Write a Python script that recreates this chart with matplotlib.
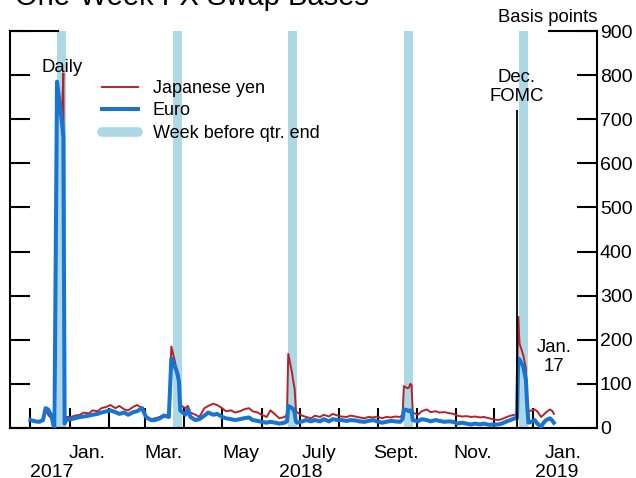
import numpy as np
import pandas as pd
import matplotlib

matplotlib.use("Agg")
import matplotlib.pyplot as plt
from matplotlib.lines import Line2D

plt.rcParams["font.family"] = ["Liberation Sans", "DejaVu Sans"]

# --- data (basis points) --------------------------------------------------
dates = [
    "2017-12-01", "2017-12-05", "2017-12-08", "2017-12-11", "2017-12-13", "2017-12-15", "2017-12-18",
    "2017-12-19", "2017-12-20", "2017-12-22", "2017-12-26", "2017-12-27", "2017-12-28", "2017-12-29",
    "2018-01-02", "2018-01-05", "2018-01-09", "2018-01-12", "2018-01-16", "2018-01-19", "2018-01-23",
    "2018-01-26", "2018-01-30",
    "2018-02-02", "2018-02-06", "2018-02-09", "2018-02-13", "2018-02-16", "2018-02-20", "2018-02-23",
    "2018-02-27",
    "2018-03-02", "2018-03-06", "2018-03-09", "2018-03-13", "2018-03-16", "2018-03-20", "2018-03-22",
    "2018-03-26", "2018-03-27", "2018-03-28", "2018-03-29",
    "2018-04-02", "2018-04-04", "2018-04-06", "2018-04-10", "2018-04-13", "2018-04-17", "2018-04-20",
    "2018-04-24", "2018-04-27",
    "2018-05-01", "2018-05-04", "2018-05-08", "2018-05-11", "2018-05-15", "2018-05-18", "2018-05-22",
    "2018-05-25", "2018-05-29",
    "2018-06-01", "2018-06-05", "2018-06-08", "2018-06-12", "2018-06-15", "2018-06-19", "2018-06-21",
    "2018-06-22", "2018-06-25", "2018-06-26", "2018-06-27", "2018-06-28", "2018-06-29",
    "2018-07-03", "2018-07-06", "2018-07-10", "2018-07-13", "2018-07-17", "2018-07-20", "2018-07-24",
    "2018-07-27", "2018-07-31",
    "2018-08-03", "2018-08-07", "2018-08-10", "2018-08-14", "2018-08-17", "2018-08-21", "2018-08-24",
    "2018-08-28", "2018-08-31",
    "2018-09-04", "2018-09-07", "2018-09-11", "2018-09-14", "2018-09-18", "2018-09-20", "2018-09-21",
    "2018-09-24", "2018-09-25", "2018-09-26", "2018-09-27", "2018-09-28",
    "2018-10-02", "2018-10-05", "2018-10-09", "2018-10-12", "2018-10-16", "2018-10-19", "2018-10-23",
    "2018-10-26", "2018-10-30",
    "2018-11-02", "2018-11-06", "2018-11-09", "2018-11-13", "2018-11-16", "2018-11-20", "2018-11-23",
    "2018-11-27", "2018-11-30",
    "2018-12-04", "2018-12-07", "2018-12-11", "2018-12-14", "2018-12-17", "2018-12-19", "2018-12-20",
    "2018-12-21", "2018-12-24", "2018-12-26", "2018-12-27", "2018-12-28", "2018-12-31",
    "2019-01-02", "2019-01-04", "2019-01-07", "2019-01-09", "2019-01-11", "2019-01-14", "2019-01-16",
    "2019-01-17",
]
yen = [
    18, 15, 14, 20, 45, 30, 20, 10, 5, 770, 720, 804, 15, 25,
    25, 28, 30, 35, 33, 40, 38, 45, 48,
    52, 45, 50, 42, 40, 48, 52, 45,
    25, 20, 22, 25, 30, 28, 185, 135, 125, 115, 52,
    45, 50, 35, 30, 25, 45, 50, 55, 52,
    45, 38, 40, 35, 38, 42, 45, 38, 35,
    30, 25, 40, 30, 22, 25, 30, 168, 125, 105, 90, 40, 35,
    28, 25, 22, 28, 25, 30, 26, 32, 28,
    26, 25, 28, 26, 24, 22, 25, 24, 26,
    22, 25, 24, 26, 25, 30, 95, 90, 92, 100, 98, 35,
    30, 38, 42, 36, 38, 35, 36, 34, 32,
    28, 26, 27, 25, 26, 24, 25, 22, 20,
    18, 20, 25, 28, 30, 30, 252, 192, 165, 135, 40, 38, 40,
    42, 38, 25, 30, 36, 42, 38, 32,
]
euro = [
    18, 15, 14, 18, 45, 42, 25, 8, 2, 785, 690, 660, 10, 18,
    20, 22, 25, 26, 28, 30, 32, 35, 38,
    40, 36, 32, 35, 30, 36, 38, 45,
    25, 18, 18, 22, 28, 25, 158, 130, 120, 105, 40,
    30, 42, 25, 18, 20, 28, 35, 30, 32,
    25, 22, 20, 18, 20, 22, 24, 18, 16,
    14, 12, 14, 12, 10, 12, 15, 50, 45, 42, 35, 15, 12,
    15, 18, 15, 18, 15, 20, 15, 20, 18,
    18, 16, 18, 17, 15, 14, 16, 18, 15,
    12, 14, 16, 15, 14, 20, 42, 40, 38, 40, 38, 18,
    15, 20, 18, 15, 18, 16, 14, 15, 14,
    10, 12, 10, 8, 10, 8, 10, 7, 8,
    8, 10, 15, 18, 22, 22, 158, 155, 139, 110, 55, 12, 15,
    18, 10, 3, 12, 18, 22, 16, 12,
]

# week before each quarter end
qtr_start = ["2017-12-22", "2018-03-23", "2018-06-22", "2018-09-21", "2018-12-21"]
qtr_end = ["2017-12-29", "2018-03-30", "2018-06-29", "2018-09-28", "2018-12-28"]

fomc_date = "2018-12-19"
fomc_top = 720

month_labels = ["Jan.", "Mar.", "May", "July", "Sept.", "Nov.", "Jan."]
month_label_dates = ["2018-01-15", "2018-03-16", "2018-05-16", "2018-07-16",
                     "2018-09-15", "2018-11-14", "2019-01-24"]
year_labels = ["2017", "2018", "2019"]
year_label_dates = ["2017-12-18", "2018-07-02", "2019-01-19"]

RED = "#B5232A"
BLUE = "#1874D2"
SHADE = "#ADD8E6"
FS_TICK = 14
FS_NOTE = 13.3
FS_LEG = 13

x = pd.to_datetime(dates)

fig = plt.figure(figsize=(6.36, 4.78), dpi=100)
ax = fig.add_axes([10 / 636, 1 - 428 / 478, 587 / 636, 397 / 478])

for s, e in zip(qtr_start, qtr_end):
    ax.axvspan(pd.Timestamp(s), pd.Timestamp(e), color=SHADE, lw=0, zorder=1)

ax.plot(x, yen, color=RED, lw=1.4, zorder=3)
ax.plot(x, euro, color=BLUE, lw=2.9, zorder=4)
ax.vlines(pd.Timestamp(fomc_date), 0, fomc_top, color="black", lw=1.3, zorder=5)

ax.set_xlim(pd.Timestamp("2017-11-15"), pd.Timestamp("2019-02-20"))
ax.set_ylim(0, 900)

# axes frame: no top spine, just long ticks at the two top corners
for side in ["left", "right", "bottom"]:
    ax.spines[side].set_linewidth(1.5)
ax.spines["top"].set_visible(False)
ax.axhline(900, xmin=0, xmax=48 / 587, color="black", lw=1.5, clip_on=False)
ax.axhline(900, xmin=1 - 48 / 587, xmax=1, color="black", lw=1.5, clip_on=False)

ax.set_yticks(np.arange(0, 901, 100))
ax.yaxis.set_ticks_position("both")
ax.tick_params(axis="y", direction="in", length=14.4, width=1.5,
               labelleft=False, labelright=True, labelsize=FS_TICK, pad=2)

ax.set_xticks(pd.date_range("2017-12-01", "2019-01-01", freq="MS"))
ax.tick_params(axis="x", direction="in", length=14.4, width=1.5, labelbottom=False)

xtrans = ax.get_xaxis_transform()
for lab, d in zip(month_labels, month_label_dates):
    ax.text(pd.Timestamp(d), -30 / 397, lab, transform=xtrans, ha="center",
            va="baseline", fontsize=FS_TICK, clip_on=False)
for lab, d in zip(year_labels, year_label_dates):
    ax.text(pd.Timestamp(d), -49 / 397, lab, transform=xtrans, ha="center",
            va="baseline", fontsize=FS_TICK, clip_on=False)

# annotations
ax.text(pd.Timestamp("2017-12-26"), 818, "Daily", ha="center", va="center", fontsize=FS_NOTE)
ax.text(pd.Timestamp(fomc_date), 773, "Dec.\nFOMC", ha="center", va="center",
        fontsize=FS_NOTE, linespacing=1.1)
ax.text(pd.Timestamp("2019-01-17"), 161, "Jan.\n17", ha="center", va="center",
        fontsize=FS_NOTE, linespacing=1.1)
ax.text(1.0, (428 - 17) / 397, "Basis points", transform=ax.transAxes, ha="right",
        va="center", fontsize=FS_NOTE)

handles = [
    Line2D([], [], color=RED, lw=1.4),
    Line2D([], [], color=BLUE, lw=2.9),
    Line2D([], [], color=SHADE, lw=7, solid_capstyle="round"),
]
ax.legend(handles, ["Japanese yen", "Euro", "Week before qtr. end"],
          loc="upper left", bbox_to_anchor=(102 / 636, 1 - 80 / 478),
          bbox_transform=fig.transFigure, frameon=False, fontsize=FS_LEG,
          handlelength=2.0, handletextpad=0.8, labelspacing=0.3,
          borderpad=0, borderaxespad=0)

fig.text(15 / 636, 1 - 5 / 478, "One-Week FX Swap Bases", fontsize=21,
         ha="left", va="baseline")

fig.savefig("out.png", dpi=100)
plt.close(fig)
